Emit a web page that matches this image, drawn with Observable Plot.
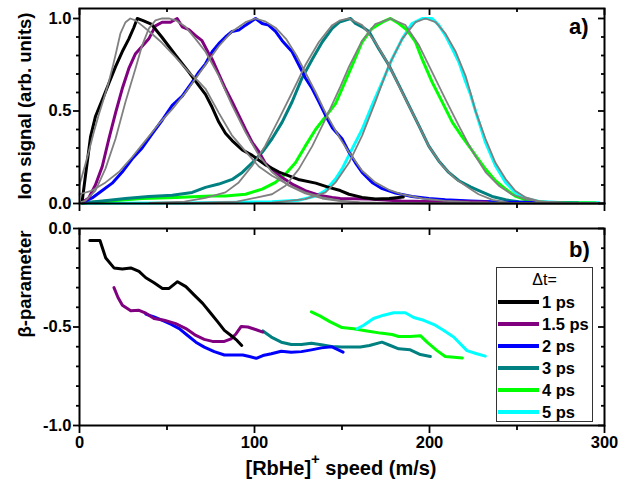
<!DOCTYPE html>
<html><head><meta charset="utf-8">
<script src="https://cdn.jsdelivr.net/npm/d3@7"></script>
<script src="https://cdn.jsdelivr.net/npm/@observablehq/plot@0.6"></script>
<style>
body{margin:0;background:#fff;font-family:"Liberation Sans",Arial,sans-serif;}
#wrap{position:relative;width:637px;height:483px;overflow:hidden;}
#wrap svg{position:absolute;left:0;}
.t{position:absolute;font-weight:bold;color:#000;white-space:nowrap;line-height:1;}
</style></head><body><div id="wrap"></div>
<script>
// ---------- series meta ----------
const seriesLabels = ["1 ps","1.5 ps","2 ps","3 ps","4 ps","5 ps"];
const seriesColors = ["#000000","#800080","#0000ff","#008080","#00ff00","#00ffff"];
const fitColor = "#808080";

// ---------- panel a: ion signal (data) ----------
const sigX_1 = [1.5,3.4,6.3,9.1,13,16.8,20.6,24.4,28.2,31,33,36,41,47,55,62.5,68,72,75.8,79.6,83.4,87.2,93,98.7,106,114,125,135,142.5,149,154,161.5,169,177,185];
const sigY_1 = [0.01,0.15,0.36,0.47,0.56,0.65,0.74,0.82,0.89,0.95,1.0,0.99,0.97,0.90,0.80,0.71,0.64,0.59,0.52,0.44,0.38,0.34,0.29,0.26,0.21,0.17,0.13,0.11,0.087,0.07,0.05,0.033,0.024,0.027,0.035];
const sigX_15 = [1.5,5.3,9.1,13,16.8,20.6,24.4,28.2,32,35.8,39.6,43.4,47.2,52,55.8,58.7,62.5,66,70,73.9,75.8,79.6,83.4,87.2,91,94.9,98.7,102.5,106,110,115.8,121.5,129,136.8,144.4,149,165,184,203,223,233];
const sigY_15 = [0.005,0.03,0.10,0.20,0.35,0.49,0.62,0.73,0.81,0.85,0.89,0.96,0.98,0.98,1.0,0.955,0.94,0.91,0.88,0.81,0.78,0.70,0.62,0.55,0.476,0.40,0.33,0.28,0.22,0.186,0.14,0.105,0.07,0.045,0.033,0.027,0.024,0.014,0.01,0.01,0.008];
const sigX_2 = [1.5,7.2,13,18.7,24.4,30,35.8,41.5,47.2,53,58.7,64.4,68.2,72,75.8,79.6,83.4,87.2,91,94.9,100.6,104.4,108,112,115.8,121.5,125.3,129,133,136.8,140.6,144.4,150,154,157.7,161.5,167.2,173,180.6,190,199.6,209,223.4,240,260];
const sigY_2 = [0.005,0.03,0.07,0.11,0.17,0.24,0.30,0.376,0.45,0.53,0.58,0.656,0.71,0.755,0.82,0.864,0.90,0.93,0.937,0.964,1.0,0.973,0.964,0.93,0.88,0.82,0.75,0.68,0.62,0.55,0.476,0.41,0.35,0.277,0.22,0.168,0.114,0.08,0.056,0.038,0.027,0.02,0.014,0.008,0.005];
const sigX_3 = [1.5,13,26.3,39.6,53,64.4,72,79.6,87.2,93,98.7,104.4,110,115.8,121.5,127,133,138.7,144.4,148.5,154.9,157.7,161.5,165.4,171,176.8,182.5,188.2,194,199.6,205.3,211,216.8,223.4,228.2,235.8,243.5,251,258.7,268,285];
const sigY_3 = [0.003,0.014,0.027,0.038,0.045,0.06,0.087,0.105,0.13,0.168,0.22,0.277,0.35,0.44,0.55,0.675,0.78,0.873,0.946,0.98,1.0,0.973,0.955,0.93,0.837,0.747,0.64,0.53,0.42,0.31,0.23,0.168,0.123,0.09,0.07,0.038,0.02,0.009,0.005,0.004,0.003];
const sigX_4 = [1.5,16.8,35.8,55,75,83.4,94.9,104.4,112,117.7,123.4,129,134.9,140.6,146.3,150,155.8,161.5,167.2,173,177.7,182.5,187.2,192,195.8,201.5,207.3,213,218.7,223.4,226.3,232,237.7,243.5,249,256.8,266,277.7,295];
const sigY_4 = [0.003,0.014,0.027,0.033,0.04,0.04,0.05,0.078,0.114,0.16,0.22,0.31,0.40,0.47,0.54,0.62,0.747,0.873,0.946,0.98,1.0,0.973,0.937,0.873,0.78,0.656,0.548,0.44,0.36,0.30,0.26,0.186,0.123,0.078,0.04,0.014,0.005,0.004,0.003];
const sigX_5 = [1.5,60,110,125,134.9,140.6,146.3,150,155.8,161.5,167.2,173,178.7,184.4,190,195.8,201.5,205.3,209,213,216.8,220.6,223.4,226.3,232,237.7,243.5,249,255,262.5,274,297];
const sigY_5 = [0.002,0.003,0.009,0.018,0.04,0.07,0.132,0.186,0.295,0.40,0.53,0.656,0.783,0.89,0.973,1.0,1.0,0.964,0.91,0.837,0.765,0.66,0.59,0.50,0.33,0.204,0.114,0.06,0.027,0.011,0.005,0.004];

// ---------- panel a: fitted curves (grey) ----------
const fitX_1 = [0,3,5.3,8,11,14,16.8,19,21,23.4,26.3,29,32,36,41,47,55,62.5,68,72,79.6,87,95,102.5,110,119.6,129,138.7,149,160,175,190,210,300];
const fitY_1 = [0.10,0.20,0.28,0.38,0.48,0.57,0.66,0.74,0.82,0.92,0.98,1.0,0.99,0.96,0.92,0.87,0.79,0.71,0.66,0.62,0.49,0.37,0.28,0.20,0.15,0.10,0.06,0.033,0.015,0.006,0.002,0.001,0,0];
const fitX_15 = [0,3.4,9.1,14.9,20.6,26.3,32,35.8,39.6,43.4,47.2,51,55,60.6,66.3,72,79.6,87.2,94.9,102.5,110,119.6,129,138.7,149,160,175,200,230,300];
const fitY_15 = [0.005,0.015,0.07,0.19,0.35,0.55,0.73,0.855,0.945,0.99,1.0,1.0,0.99,0.955,0.89,0.82,0.69,0.53,0.385,0.26,0.17,0.096,0.054,0.027,0.013,0.006,0.003,0.001,0,0];
const fitX_2 = [0,7.2,14.9,22.5,30,37.7,45.3,53,60.6,66.3,72,79.6,87.2,94.9,100.6,106,112,118,124,129,135,140.6,149,154,161.5,169,176.8,184.4,196,209,223,240,260,300];
const fitY_2 = [0.05,0.07,0.114,0.17,0.25,0.34,0.43,0.51,0.60,0.675,0.75,0.85,0.93,0.98,1.0,0.985,0.95,0.89,0.80,0.71,0.60,0.49,0.35,0.277,0.177,0.114,0.074,0.049,0.027,0.014,0.007,0.003,0.001,0];
const fitX_3 = [40,60,72,83.4,91,98.7,106,114,121.5,129,136.8,144.4,149,154,161.5,169,176.8,184.4,192,199.6,207.3,215,223.4,228,236,245,260,300];
const fitY_3 = [0.003,0.01,0.03,0.06,0.114,0.204,0.31,0.457,0.60,0.747,0.873,0.964,0.99,1.0,0.964,0.873,0.747,0.60,0.457,0.31,0.204,0.132,0.078,0.05,0.02,0.005,0.001,0];
const fitX_4 = [60,90,110,117.7,125.3,133,140.6,149,154,161.5,169,177.7,186.3,194,201.5,209,216.8,223.4,226.3,232,239.6,247,255,264.4,277.7,300];
const fitY_4 = [0.002,0.01,0.05,0.096,0.186,0.31,0.457,0.63,0.74,0.88,0.97,1.0,0.964,0.855,0.71,0.566,0.42,0.30,0.255,0.17,0.096,0.05,0.024,0.009,0.004,0.003];
const fitX_5 = [100,110,129,140.6,146.3,154,161.5,169,176.8,184.4,192,197.7,203.5,209,215,220.6,223.4,226.3,232,237.7,243.5,249,255,262.5,274,300];
const fitY_5 = [0.002,0.005,0.024,0.06,0.114,0.22,0.367,0.548,0.747,0.89,0.98,1.0,0.98,0.92,0.82,0.69,0.60,0.50,0.35,0.22,0.132,0.069,0.033,0.013,0.005,0.003];

// ---------- panel b: beta parameter ----------
const betaX_1 = [5.9,11.7,15,19.7,24.5,29.3,34,37.9,42.6,47.4,51.2,56,60.8,65.6,70.4,75,79,82.8,86.6,90,92.7];
const betaY_1 = [-0.061,-0.061,-0.15,-0.20,-0.206,-0.20,-0.218,-0.25,-0.275,-0.304,-0.304,-0.27,-0.295,-0.338,-0.38,-0.43,-0.474,-0.517,-0.543,-0.568,-0.594];
const betaX_15 = [19.7,22,24.5,29.3,34,37.9,42.6,48.4,55,60.8,66.5,71.3,76,82.8,86.6,89.5,92.4,96.2,101,104.8];
const betaY_15 = [-0.30,-0.35,-0.39,-0.418,-0.415,-0.43,-0.457,-0.466,-0.483,-0.508,-0.543,-0.563,-0.573,-0.573,-0.56,-0.534,-0.497,-0.50,-0.514,-0.526];
const betaX_2 = [37.9,42.6,47.4,52.2,57,61.8,66.5,71.3,77,82.8,87.6,93.3,97.1,101,104.8,109.6,115.3,121,126.8,132.5,138.2,144,150.6];
const betaY_2 = [-0.435,-0.449,-0.466,-0.486,-0.508,-0.543,-0.577,-0.602,-0.625,-0.642,-0.642,-0.642,-0.65,-0.659,-0.645,-0.636,-0.623,-0.628,-0.625,-0.616,-0.606,-0.60,-0.628];
const betaX_3 = [104.8,109.6,115.3,121,126.8,132.5,138.2,144,149.7,160.5,165.7,172.8,177.6,182.4,189,194.8,200.5];
const betaY_3 = [-0.52,-0.551,-0.577,-0.589,-0.589,-0.582,-0.59,-0.599,-0.602,-0.602,-0.594,-0.577,-0.594,-0.611,-0.616,-0.64,-0.65];
const betaX_4 = [132.5,137.6,143.3,150,156.7,164.3,172,178.6,182.4,189,194.8,198.6,204.3,209,214,218.8];
const betaY_4 = [-0.423,-0.445,-0.474,-0.503,-0.509,-0.52,-0.531,-0.538,-0.548,-0.548,-0.544,-0.577,-0.62,-0.65,-0.654,-0.657];
const betaX_5 = [158.6,162.4,168,173.8,179.5,186.2,191,196.7,203.3,208,213.8,221.4,227,231.9];
const betaY_5 = [-0.509,-0.491,-0.457,-0.44,-0.428,-0.428,-0.452,-0.466,-0.491,-0.517,-0.551,-0.62,-0.636,-0.648];

// ---------- ticks ----------
const xMajorTicks = [0,100,200,300];
const xMinorTicks = [50,150,250];
const yMajorA = [0,0.5,1.0];
const yMinorA = [0.1,0.2,0.3,0.4,0.6,0.7,0.8,0.9];
const yMajorB = [-1.0,-0.5,0.0];
const yMinorB = [-0.9,-0.8,-0.7,-0.6,-0.4,-0.3,-0.2,-0.1];

const sigXs = [sigX_1,sigX_15,sigX_2,sigX_3,sigX_4,sigX_5];
const sigYs = [sigY_1,sigY_15,sigY_2,sigY_3,sigY_4,sigY_5];
const fitXs = [fitX_1,fitX_15,fitX_2,fitX_3,fitX_4,fitX_5];
const fitYs = [fitY_1,fitY_15,fitY_2,fitY_3,fitY_4,fitY_5];
const betaXs = [betaX_1,betaX_15,betaX_2,betaX_3,betaX_4,betaX_5];
const betaYs = [betaY_1,betaY_15,betaY_2,betaY_3,betaY_4,betaY_5];

const pts = (xs, ys, s) => xs.map((x, i) => ({x, y: ys[i], s}));
const W = 637, ML = 79, MR = 33;
const PW = W - ML - MR;
const fmt = d => (Math.abs(d) < 1e-9 ? 0 : d).toFixed(1);
const style = {fontFamily: "'Liberation Sans', Arial, sans-serif", fontSize: "16.5px", fontWeight: "bold", color: "#000", background: "transparent", overflow: "visible"};

// ---------- panel a ----------
const HA = 215, MTA = 8, MBA = 12, PHA = HA - MTA - MBA;
const drawOrderA = [5,4,3,2,1,0];
const marksA = [];
drawOrderA.forEach(i => marksA.push(Plot.line(pts(sigXs[i], sigYs[i], i), {x: "x", y: "y", stroke: seriesColors[i], strokeWidth: 3})));
drawOrderA.forEach(i => marksA.push(Plot.line(pts(fitXs[i], fitYs[i], i), {x: "x", y: "y", stroke: fitColor, strokeWidth: 1.8})));
marksA.push(
  Plot.frame({stroke: "#000", strokeWidth: 2}),
  Plot.axisY(yMajorA, {tickSize: 6, tickPadding: 2, tickFormat: fmt, strokeWidth: 1.8, label: null}),
  Plot.axisY(yMinorA, {tickSize: 3, tickFormat: () => "", strokeWidth: 1.8, label: null}),
  Plot.tickY(yMajorA, {y: d => d, insetLeft: PW - 6, stroke: "#000", strokeWidth: 1.8}),
  Plot.tickY(yMinorA, {y: d => d, insetLeft: PW - 3, stroke: "#000", strokeWidth: 1.8}),
  Plot.axisX(xMajorTicks, {tickSize: 8, tickFormat: () => "", strokeWidth: 1.8, label: null}),
  Plot.axisX(xMinorTicks, {tickSize: 5, tickFormat: () => "", strokeWidth: 1.8, label: null}),
  Plot.tickX(xMajorTicks, {x: d => d, insetBottom: PHA - 7, stroke: "#000", strokeWidth: 1.8}),
  Plot.tickX(xMinorTicks, {x: d => d, insetBottom: PHA - 4, stroke: "#000", strokeWidth: 1.8})
);
const plotA = Plot.plot({
  width: W, height: HA, marginLeft: ML, marginRight: MR, marginTop: MTA, marginBottom: MBA,
  x: {domain: [0, 300]}, y: {domain: [0, 1.054]}, style, marks: marksA
});
plotA.style.top = "0px";

// ---------- panel b ----------
const HB = 268, MTB = 13, MBB = 58, PHB = HB - MTB - MBB;
const drawOrderB = [4,3,2,1,5,0];
const marksB = [];
drawOrderB.forEach(i => marksB.push(Plot.line(pts(betaXs[i], betaYs[i], i), {x: "x", y: "y", stroke: seriesColors[i], strokeWidth: 3})));
marksB.push(
  Plot.frame({stroke: "#000", strokeWidth: 2}),
  Plot.axisY(yMajorB, {tickSize: 6, tickPadding: 2, tickFormat: fmt, strokeWidth: 1.8, label: null}),
  Plot.axisY(yMinorB, {tickSize: 3, tickFormat: () => "", strokeWidth: 1.8, label: null}),
  Plot.tickY(yMajorB, {y: d => d, insetLeft: PW - 6, stroke: "#000", strokeWidth: 1.8}),
  Plot.tickY(yMinorB, {y: d => d, insetLeft: PW - 3, stroke: "#000", strokeWidth: 1.8}),
  Plot.axisX(xMajorTicks, {tickSize: 8, tickPadding: 3, tickFormat: d => String(d), strokeWidth: 1.8, label: null}),
  Plot.axisX(xMinorTicks, {tickSize: 5, tickFormat: () => "", strokeWidth: 1.8, label: null}),
  Plot.tickX(xMajorTicks, {x: d => d, insetBottom: PHB - 7, stroke: "#000", strokeWidth: 1.8}),
  Plot.tickX(xMinorTicks, {x: d => d, insetBottom: PHB - 4, stroke: "#000", strokeWidth: 1.8})
);
const plotB = Plot.plot({
  width: W, height: HB, marginLeft: ML, marginRight: MR, marginTop: MTB, marginBottom: MBB,
  x: {domain: [0, 300]}, y: {domain: [-1, 0]}, style, marks: marksB
});
plotB.style.top = HA + "px";

const wrap = document.getElementById("wrap");
wrap.appendChild(plotA);
wrap.appendChild(plotB);

// ---------- text: titles, panel labels, legend ----------
function addText(html, css) {
  const d = document.createElement("div");
  d.className = "t";
  d.innerHTML = html;
  Object.assign(d.style, css);
  wrap.appendChild(d);
  return d;
}
addText("Ion signal (arb. units)", {left: "25px", top: "106px", fontSize: "18.5px", transform: "translate(-50%,-50%) rotate(-90deg)"});
addText("β-parameter", {left: "25px", top: "284px", fontSize: "18.5px", transform: "translate(-50%,-50%) rotate(-90deg)"});
addText("[RbHe]<sup style='font-size:15px;position:relative;top:-3px'>+</sup> speed (m/s)", {left: "341px", top: "466px", fontSize: "20px", transform: "translate(-50%,-50%)"});
addText("a)", {left: "569px", top: "16px", fontSize: "22px"});
addText("b)", {left: "569px", top: "239px", fontSize: "22px"});

const leg = document.createElement("div");
Object.assign(leg.style, {position: "absolute", left: "496px", top: "267px", width: "97px", height: "155px", boxSizing: "border-box", border: "1px solid #333", background: "#fff"});
wrap.appendChild(leg);
const lt = document.createElement("div");
Object.assign(lt.style, {position: "absolute", left: "0", width: "100%", top: "4px", textAlign: "center", fontSize: "16px", fontFamily: "'Liberation Sans', Arial, sans-serif", lineHeight: "1"});
lt.textContent = "Δt=";
leg.appendChild(lt);
seriesLabels.forEach((lab, i) => {
  const row = document.createElement("div");
  Object.assign(row.style, {position: "absolute", left: "0", top: (24 + i * 22) + "px", height: "20px", width: "100%"});
  const ln = document.createElement("div");
  Object.assign(ln.style, {position: "absolute", left: "1px", top: "8px", width: "41px", height: "4px", background: seriesColors[i]});
  const tx = document.createElement("div");
  Object.assign(tx.style, {position: "absolute", left: "45px", top: "2px", fontSize: "16.5px", fontWeight: "bold", fontFamily: "'Liberation Sans', Arial, sans-serif", lineHeight: "1", whiteSpace: "nowrap"});
  tx.textContent = lab;
  row.appendChild(ln); row.appendChild(tx);
  leg.appendChild(row);
});
</script></body></html>
